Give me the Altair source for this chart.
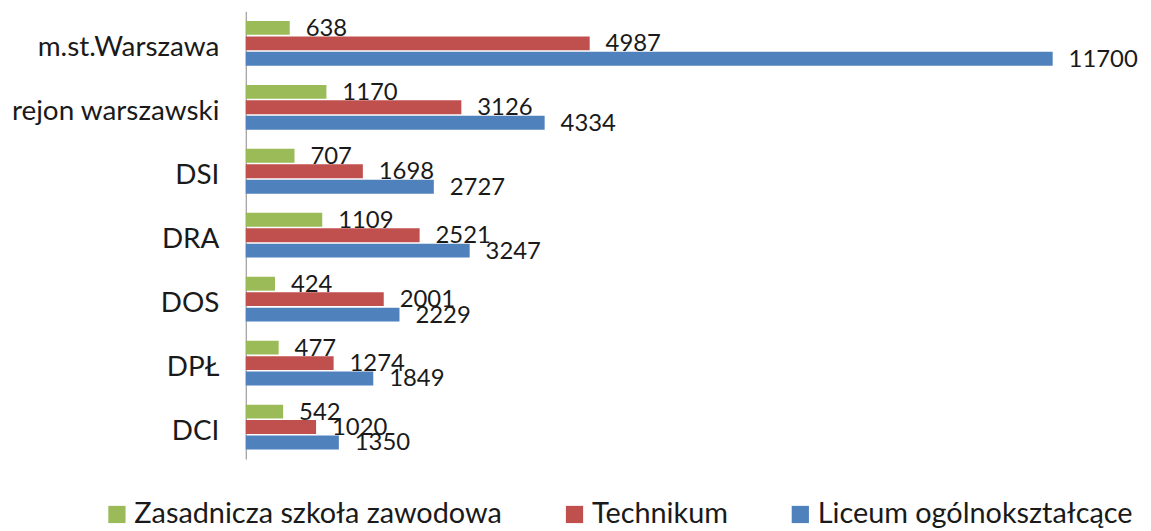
import altair as alt
import pandas as pd

categories = ["m.st.Warszawa", "rejon warszawski ", "DSI", "DRA", "DOS", "DPŁ", "DCI"]
series = ["Zasadnicza szkoła zawodowa", "Technikum", "Liceum ogólnokształcące"]
zasadnicza = [638, 1170, 707, 1109, 424, 477, 542]
technikum = [4987, 3126, 1698, 2521, 2001, 1274, 1020]
liceum = [11700, 4334, 2727, 3247, 2229, 1849, 1350]
colors = ["#9BBB59", "#C0504D", "#4F81BD"]

rows = []
for s, vals in zip(series, [zasadnicza, technikum, liceum]):
    for c, v in zip(categories, vals):
        rows.append({"kategoria": c, "typ": s, "liczba": v})
df = pd.DataFrame(rows)

FONT = "Lato"

y_enc = alt.Y(
    "kategoria:N",
    sort=categories,
    scale=alt.Scale(paddingInner=0.3, paddingOuter=0.15),
    axis=alt.Axis(
        title=None,
        ticks=False,
        tickSize=0,
        labelPadding=27,
        labelFontSize=28,
        labelFont=FONT,
        labelColor="#1a1a1a",
        labelOffset=5,
        labelLimit=400,
        domainColor="#868686",
        domainWidth=1,
        grid=False,
    ),
)
yoff = alt.YOffset("typ:N", sort=series, scale=alt.Scale(paddingInner=0.1))
x_enc = alt.X("liczba:Q", scale=alt.Scale(domain=[0, 12000]), axis=None)

bars = alt.Chart(df).mark_bar().encode(
    y=y_enc,
    yOffset=yoff,
    x=x_enc,
    color=alt.Color(
        "typ:N",
        sort=series,
        scale=alt.Scale(domain=series, range=colors),
        legend=alt.Legend(
            title=None,
            orient="none",
            direction="horizontal",
            legendX=-144,
            legendY=491,
            symbolType="square",
            symbolSize=300,
            symbolStrokeWidth=0,
            labelFontSize=29,
            labelFont=FONT,
            labelColor="#1a1a1a",
            labelOffset=3,
            columnPadding=58,
            labelLimit=600,
        ),
    ),
)

labels = alt.Chart(df).mark_text(
    align="left", baseline="middle", dx=16, dy=1, fontSize=24, font=FONT, color="#1a1a1a"
).encode(
    y=alt.Y("kategoria:N", sort=categories),
    yOffset=alt.YOffset("typ:N", sort=series),
    x="liczba:Q",
    text="liczba:Q",
)

chart = (
    alt.layer(bars, labels)
    .properties(
        width=832,
        height=450,
        autosize=alt.AutoSizeParams(type="none"),
        padding={"left": 239, "top": 2, "right": 70, "bottom": 78},
        background="white",
    )
    .configure_view(stroke=None, strokeWidth=0)
)

chart.save("out.html", embed_options={"renderer": "svg", "actions": False})
